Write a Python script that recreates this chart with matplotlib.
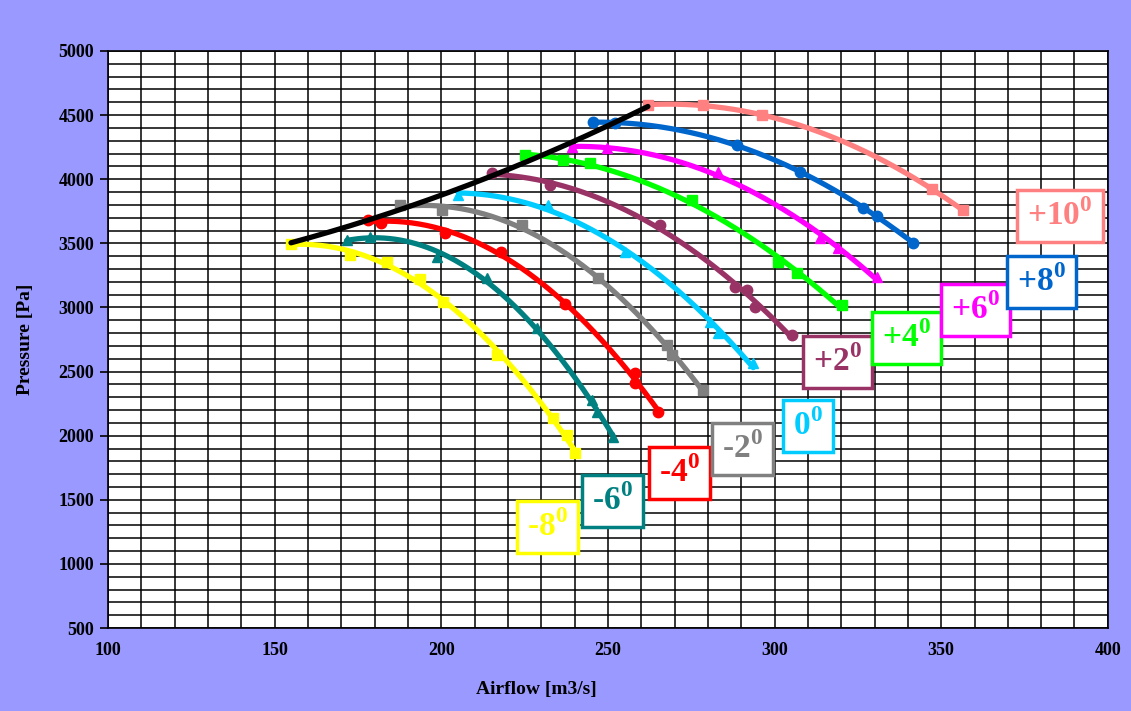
import numpy as np
import matplotlib
matplotlib.use("Agg")
import matplotlib.pyplot as plt

# ── Fonts ──────────────────────────────────────────────────────────────────────
plt.rcParams["font.family"] = ["Liberation Serif", "DejaVu Serif"]
plt.rcParams["mathtext.fontset"] = "custom"
plt.rcParams["mathtext.rm"] = "Liberation Serif:bold"
plt.rcParams["mathtext.bf"] = "Liberation Serif:bold"

# ── Data ───────────────────────────────────────────────────────────────────────
x_m8 = [155.0, 172.6, 183.6, 193.6, 200.6, 216.7, 233.6, 237.6, 240.1]
y_m8 = [3495, 3409, 3357, 3220, 3045, 2629, 2135, 2005, 1865]

x_m6 = [171.6, 178.6, 198.6, 213.7, 228.6, 245.1, 246.6, 251.6]
y_m6 = [3526, 3552, 3396, 3230, 2837, 2278, 2187, 1992]

x_m4 = [178.0, 182.0, 201.0, 218.0, 237.0, 258.0, 258.0, 265.0]
y_m4 = [3685, 3660, 3578, 3435, 3025, 2490, 2408, 2187]

x_m2 = [187.6, 200.1, 224.1, 247.1, 267.6, 269.1, 278.6]
y_m2 = [3799, 3760, 3643, 3227, 2707, 2629, 2356]

x_0 = [205.1, 232.1, 255.1, 280.6, 283.1, 293.6]
y_0 = [3877, 3799, 3435, 2889, 2798, 2564]

x_p2 = [215.1, 232.6, 265.6, 288.1, 291.6, 294.1, 305.1]
y_p2 = [4046, 3955, 3643, 3162, 3136, 3006, 2785]

x_p4 = [225.1, 236.6, 244.6, 275.1, 301.1, 306.6, 320.1]
y_p4 = [4189, 4150, 4124, 3838, 3357, 3266, 3019]

x_p6 = [239.1, 249.6, 283.1, 313.6, 319.1, 330.6]
y_p6 = [4254, 4241, 4053, 3539, 3461, 3240]

x_p8 = [245.6, 252.1, 288.6, 307.6, 326.6, 330.6, 341.6]
y_p8 = [4449, 4436, 4267, 4059, 3773, 3713, 3505]

x_p10 = [262.1, 278.6, 296.1, 347.1, 356.6]
y_p10 = [4579, 4579, 4501, 3921, 3760]

# surge line
x_surge = [154.9, 187.6, 217.6, 232.6, 247.6, 262.0]
y_surge = [3495, 3783, 4056, 4197, 4368, 4587]

angle_labels = ["-8", "-6", "-4", "-2", "0", "+2", "+4", "+6", "+8", "+10"]

# ── Styles ─────────────────────────────────────────────────────────────────────
series = [
    (x_m8,  y_m8,  "#FFFF00", "s"),
    (x_m6,  y_m6,  "#008080", "^"),
    (x_m4,  y_m4,  "#FF0000", "o"),
    (x_m2,  y_m2,  "#808080", "s"),
    (x_0,   y_0,   "#00CCFF", "^"),
    (x_p2,  y_p2,  "#993366", "o"),
    (x_p4,  y_p4,  "#00FF00", "s"),
    (x_p6,  y_p6,  "#FF00FF", "^"),
    (x_p8,  y_p8,  "#0066CC", "o"),
    (x_p10, y_p10, "#FF8080", "s"),
]
# label box centres (data coords)
label_pos = [(232.0, 1288), (251.5, 1490), (271.6, 1709), (290.5, 1896),
             (310.0, 2075), (319.0, 2575), (339.7, 2762), (360.4, 2980),
             (380.2, 3199), (385.6, 3713)]


def trendline(xs, ys, deg=2):
    """2nd-order polynomial trendline over the data range (as in the source)."""
    c = np.polyfit(xs, ys, deg)
    xx = np.linspace(min(xs), max(xs), 200)
    return xx, np.polyval(c, xx)


# ── Figure ─────────────────────────────────────────────────────────────────────
fig = plt.figure(figsize=(11.31, 7.11), dpi=100)
fig.patch.set_facecolor("#9999FF")
ax = fig.add_axes([0.0955, 0.1167, 0.884, 0.8116])
ax.set_facecolor("white")

ax.set_xlim(100, 400)
ax.set_ylim(500, 5000)
ax.set_xticks(np.arange(100, 401, 50))
ax.set_yticks(np.arange(500, 5001, 500))
ax.set_xticks(np.arange(100, 401, 10), minor=True)
ax.set_yticks(np.arange(500, 5001, 100), minor=True)
ax.grid(which="both", color="black", linewidth=1.1, zorder=0)
ax.set_axisbelow(True)
ax.tick_params(axis="x", which="both", length=0, pad=10)
ax.tick_params(axis="y", which="major", length=6, width=1.2, direction="out", pad=4)
ax.tick_params(axis="y", which="minor", length=0)
for lab in ax.get_xticklabels() + ax.get_yticklabels():
    lab.set_fontweight("bold")
    lab.set_fontsize(13)
for s in ax.spines.values():
    s.set_color("black")
    s.set_linewidth(1.2)

for xs, ys, col, mk in series:
    tx, ty = trendline(xs, ys)
    ax.plot(tx, ty, color=col, linewidth=3.8, solid_capstyle="round", zorder=3)
    ax.plot(xs, ys, linestyle="none", marker=mk, markersize=7.5,
            color=col, zorder=4)

sx, sy = trendline(x_surge, y_surge)
ax.plot(sx, sy, color="black", linewidth=3.8, solid_capstyle="round", zorder=5)

for (cx, cy), lab, (_, _, col, _) in zip(label_pos, angle_labels, series):
    ax.text(cx, cy, lab + r"$^{\mathbf{0}}$", color=col, fontsize=24,
            fontweight="bold", ha="center", va="center", zorder=6,
            bbox=dict(boxstyle="square,pad=0.3", facecolor="white",
                      edgecolor=col, linewidth=2.5))

ax.set_xlabel("Airflow [m3/s]", fontsize=14, fontweight="bold")
ax.set_ylabel("Pressure [Pa]", fontsize=14, fontweight="bold")
ax.xaxis.set_label_coords(0.428, -0.092)
ax.yaxis.set_label_coords(-0.074, 0.5)

fig.savefig("out.png", dpi=100, facecolor=fig.get_facecolor())
